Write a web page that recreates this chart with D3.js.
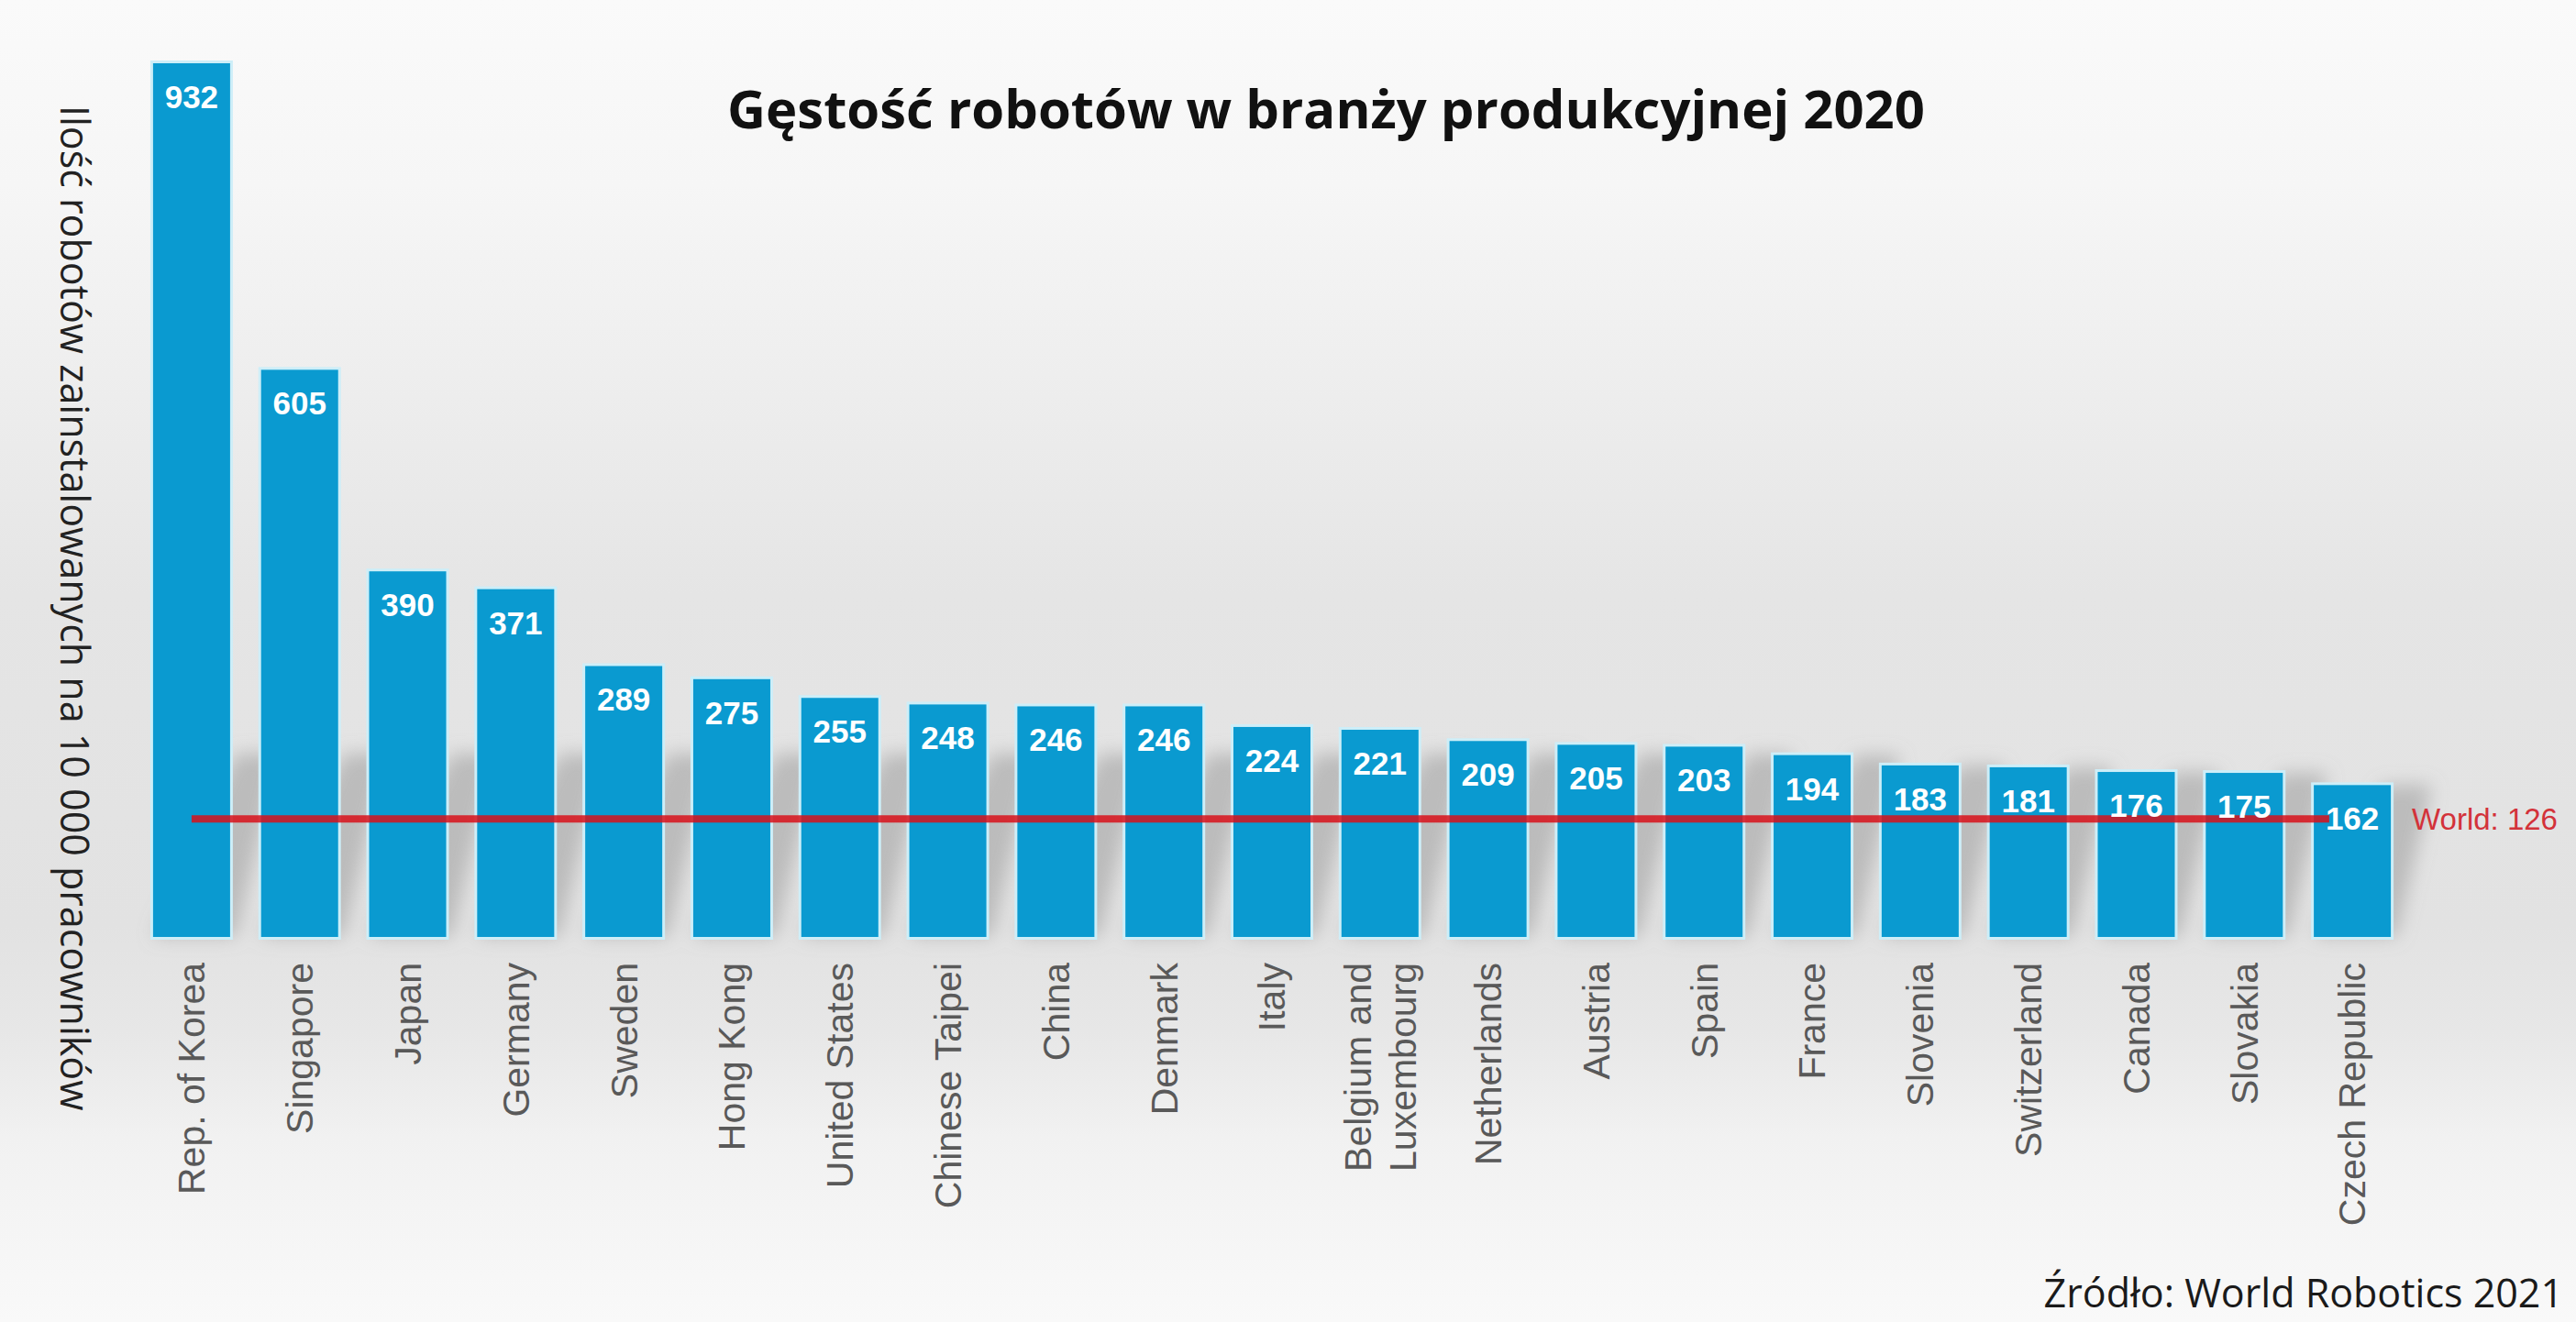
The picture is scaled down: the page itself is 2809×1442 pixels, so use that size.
<!DOCTYPE html>
<html>
<head>
<meta charset="utf-8">
<script src="https://cdn.jsdelivr.net/npm/d3@7"></script>
<style>
  body { margin: 0; background: #f8f8f8; }
  svg { display: block; }
</style>
</head>
<body>
<div id="chart"></div>
<script>
// Data
const countries = [
    "Rep. of Korea", "Singapore", "Japan", "Germany", "Sweden", "Hong Kong",
    "United States", "Chinese Taipei", "China", "Denmark", "Italy",
    "Belgium and|Luxembourg", "Netherlands", "Austria", "Spain", "France",
    "Slovenia", "Switzerland", "Canada", "Slovakia", "Czech Republic",
];
const values = [932, 605, 390, 371, 289, 275, 255, 248, 246, 246, 224, 221, 209, 205, 203, 194, 183, 181, 176, 175, 162];
const worldValue = 126;
const worldLabel = "World: 126";
const title = "Gęstość robotów w branży produkcyjnej 2020";
const yTitle = "Ilość robotów zainstalowanych na 10 000 pracowników";
const source = "Źródło: World Robotics 2021";

const width = 2809;
const height = 1442;
const barColor = "#0a9ad0";

let svg = d3
    .select("#chart")
    .append("svg")
    .attr("width", width)
    .attr("height", height);

let defs = svg.append("defs");

// background gradient (light top/bottom, grey band in the middle)
let bg = defs
    .append("linearGradient")
    .attr("id", "bg")
    .attr("x1", 0).attr("y1", 0)
    .attr("x2", 0).attr("y2", 1);
[
    [0, "#fafafa"],
    [0.14, "#f6f6f6"],
    [0.3, "#ededed"],
    [0.45, "#e5e5e5"],
    [0.7, "#e2e2e2"],
    [0.78, "#e7e7e7"],
    [0.86, "#f1f1f1"],
    [1, "#f9f9f9"],
].forEach((s) => {
    bg.append("stop").attr("offset", s[0]).attr("stop-color", s[1]);
});

defs.append("filter")
    .attr("id", "blur")
    .attr("x", "-50%").attr("y", "-50%")
    .attr("width", "200%").attr("height", "200%")
    .append("feGaussianBlur")
    .attr("stdDeviation", 10);

svg.append("rect")
    .attr("width", width)
    .attr("height", height)
    .attr("fill", "url(#bg)");

// Scales
let x = d3
    .scaleBand()
    .domain(countries)
    .range([150, 2624])
    .paddingInner(0.287)
    .paddingOuter(0.1435);

let y = d3
    .scaleLinear()
    .domain([0, 932])
    .range([1022, 69]);

// shadows behind bars
let shadows = svg.append("g").attr("filter", "url(#blur)");
shadows
    .selectAll("path")
    .data(countries)
    .enter()
    .append("path")
    .attr("d", (d, i) => {
        const x0 = x(d);
        const x1 = x0 + x.bandwidth();
        const b = y(0);
        const h = Math.min(y(0) - y(values[i]), 200);
        const dx = h * 0.45;
        return `M${x0},${b} L${x0 + dx},${b - h} L${x1 + dx * 0.6},${b - h} L${x1 + 6},${b} Z`;
    })
    .attr("fill", "#8c8c8c")
    .attr("opacity", 0.45);

// light halo round the bars
svg.append("g")
    .selectAll("rect")
    .data(countries)
    .enter()
    .append("rect")
    .attr("x", (d) => x(d) - 3)
    .attr("y", (d, i) => y(values[i]) - 3)
    .attr("width", x.bandwidth() + 6)
    .attr("height", (d, i) => y(0) - y(values[i]) + 6)
    .attr("fill", "#cdeef8");

// Bars
svg.append("g")
    .selectAll("rect")
    .data(countries)
    .enter()
    .append("rect")
    .attr("x", (d) => x(d))
    .attr("y", (d, i) => y(values[i]))
    .attr("width", x.bandwidth())
    .attr("height", (d, i) => y(0) - y(values[i]))
    .attr("fill", barColor);

// World average line
const first = countries[0];
const last = countries[countries.length - 1];
svg.append("line")
    .attr("x1", x(first) + x.bandwidth() / 2)
    .attr("x2", x(last) + x.bandwidth() * 0.2)
    .attr("y1", y(worldValue))
    .attr("y2", y(worldValue))
    .attr("stroke", "#d8101a")
    .attr("stroke-opacity", 0.85)
    .attr("stroke-width", 8);

// value labels
svg.append("g")
    .selectAll("text")
    .data(countries)
    .enter()
    .append("text")
    .attr("x", (d) => x(d) + x.bandwidth() / 2)
    .attr("y", (d, i) => y(values[i]) + 49)
    .attr("text-anchor", "middle")
    .attr("font-family", "Liberation Sans, Arial, sans-serif")
    .attr("font-weight", "bold")
    .attr("font-size", 35)
    .attr("fill", "#ffffff")
    .text((d, i) => values[i]);

svg.append("text")
    .attr("x", 2630)
    .attr("y", y(worldValue) + 12)
    .attr("font-family", "Liberation Sans, Arial, sans-serif")
    .attr("font-size", 33)
    .attr("fill", "#d3323a")
    .text(worldLabel);

// country labels (rotated)
let labels = svg
    .append("g")
    .selectAll("text")
    .data(countries)
    .enter()
    .append("text")
    .attr(
        "transform",
        (d) => "translate(" + (x(d) + x.bandwidth() / 2) + "," + 1050 + ") rotate(-90)"
    )
    .attr("text-anchor", "end")
    .attr("font-family", "Liberation Sans, Arial, sans-serif")
    .attr("font-size", 41)
    .attr("fill", "#595959");

labels.each(function (d) {
    const lines = d.split("|");
    const t = d3.select(this);
    lines.forEach((line, j) => {
        const off = (j - (lines.length - 1) / 2) * 1.2 + 0.35;
        t.append("tspan").attr("x", 0).attr("y", off + "em").text(line);
    });
});

// title
svg.append("text")
    .attr("x", 1446)
    .attr("y", 140)
    .attr("text-anchor", "middle")
    .attr("font-family", "Open Sans, sans-serif")
    .attr("font-weight", "bold")
    .attr("font-size", 58)
    .attr("fill", "#111111")
    .text(title);

// y axis title
svg.append("text")
    .attr("transform", "translate(" + 66 + "," + 115 + ") rotate(90)")
    .attr("text-anchor", "start")
    .attr("font-family", "Open Sans, sans-serif")
    .attr("font-size", 43)
    .attr("fill", "#222222")
    .text(yTitle);

// source
svg.append("text")
    .attr("x", 2795)
    .attr("y", 1426)
    .attr("text-anchor", "end")
    .attr("font-family", "Open Sans, sans-serif")
    .attr("font-size", 43)
    .attr("fill", "#1a1a1a")
    .text(source);
</script>
</body>
</html>
